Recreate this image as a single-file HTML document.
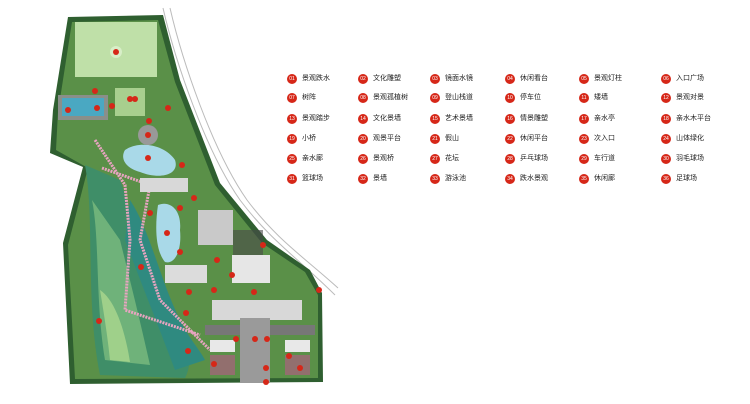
<!DOCTYPE html>
<html><head><meta charset="utf-8"><style>
body{margin:0;background:#fff;width:750px;height:404px;overflow:hidden;position:relative;font-family:"Liberation Sans","Noto Sans CJK SC",sans-serif}
.it{position:absolute;font-size:7px;color:#222;height:10px;line-height:10px;white-space:nowrap}
.it b{display:inline-block;width:10px;height:10px;border-radius:50%;background:#d62718;color:#fff;font-size:5px;text-align:center;line-height:10px;font-weight:normal;margin-right:5px;vertical-align:top}
</style></head><body>
<svg width="750" height="404" style="position:absolute;left:0;top:0">
<path d="M163,8 C175,60 205,150 240,200 C270,240 300,260 335,295" fill="none" stroke="#bbb" stroke-width="1"/>
<path d="M170,8 C182,60 212,150 247,200 C277,240 305,258 338,288" fill="none" stroke="#bbb" stroke-width="1"/>
<polygon points="68,17 163,15 180,80 220,183 267,240 310,270 322,293 323,382 70,384 63,243 83,167 50,153 53,110" fill="#2f5f30"/>
<polygon points="72,22 158,20 175,82 215,185 262,243 305,272 318,295 318,378 75,379 68,245 88,168 56,150 58,112" fill="#5a9048"/>
<rect x="75" y="22" width="82" height="55" fill="#bfe0a8"/>
<circle cx="116" cy="52" r="6" fill="#d8eec8"/>
<rect x="58" y="95" width="50" height="25" fill="#8a8f8a"/>
<rect x="62" y="98" width="42" height="18" fill="#4aa8c2"/>
<rect x="115" y="88" width="30" height="28" fill="#a8cf8e"/>
<path d="M85,165 C95,220 85,300 100,375 L185,378 C200,350 170,320 160,300 C140,260 135,220 120,180 Z" fill="#3f8e68"/>
<path d="M92,200 C100,240 95,300 105,360 L150,365 C140,320 130,280 120,240 Z" fill="#6fb27a"/>
<path d="M100,290 C105,320 108,340 110,360 L130,362 C125,330 115,300 100,290Z" fill="#9fd08a"/>
<path d="M130,200 C150,230 160,280 180,320 C190,340 200,350 205,360 L175,370 C160,330 140,280 125,240 Z" fill="#2f8a80"/>
<path d="M102,168 L150,185 L140,240 L160,300 L210,350" fill="none" stroke="#e8a4c0" stroke-width="3" stroke-dasharray="2,1"/>
<path d="M95,140 L125,185 L130,240 L125,310 L200,335" fill="none" stroke="#e8a4c0" stroke-width="3" stroke-dasharray="2,1"/>
<path d="M125,150 C140,140 165,145 175,160 C180,175 160,180 140,172 C125,168 120,158 125,150Z" fill="#a9d9e8"/>
<path d="M158,205 C170,200 182,210 180,230 C182,250 175,265 165,262 C155,250 155,225 158,205Z" fill="#a9d9e8"/>
<rect x="140" y="178" width="48" height="14" fill="#d8d8d8"/>
<rect x="198" y="210" width="35" height="35" fill="#c9c9c9"/>
<rect x="233" y="230" width="30" height="25" fill="#4a4a4a" opacity=".6"/>
<rect x="165" y="265" width="42" height="18" fill="#dcdcdc"/>
<rect x="232" y="255" width="38" height="28" fill="#e6e6e6"/>
<rect x="212" y="300" width="90" height="20" fill="#d8d8d8"/>
<rect x="240" y="318" width="30" height="65" fill="#9a9a9a"/>
<rect x="205" y="325" width="35" height="10" fill="#777"/>
<rect x="270" y="325" width="45" height="10" fill="#777"/>
<rect x="210" y="340" width="25" height="12" fill="#e8e8e8"/>
<rect x="285" y="340" width="25" height="12" fill="#e8e8e8"/>
<rect x="210" y="355" width="25" height="20" fill="#b85a88" opacity=".6"/>
<rect x="285" y="355" width="25" height="20" fill="#b85a88" opacity=".6"/>
<circle cx="148" cy="135" r="10" fill="#999"/>
<g fill="#d62718">
<circle cx="116" cy="52" r="3"/><circle cx="95" cy="91" r="3"/><circle cx="68" cy="110" r="3"/><circle cx="97" cy="108" r="3"/><circle cx="112" cy="106" r="3"/><circle cx="135" cy="99" r="3"/><circle cx="130" cy="99" r="3"/><circle cx="168" cy="108" r="3"/><circle cx="149" cy="121" r="3"/><circle cx="148" cy="135" r="3"/><circle cx="148" cy="158" r="3"/><circle cx="182" cy="165" r="3"/><circle cx="194" cy="198" r="3"/><circle cx="180" cy="208" r="3"/><circle cx="150" cy="213" r="3"/><circle cx="167" cy="233" r="3"/><circle cx="180" cy="252" r="3"/><circle cx="141" cy="267" r="3"/><circle cx="217" cy="260" r="3"/><circle cx="232" cy="275" r="3"/><circle cx="263" cy="245" r="3"/><circle cx="189" cy="292" r="3"/><circle cx="214" cy="290" r="3"/><circle cx="254" cy="292" r="3"/><circle cx="319" cy="290" r="3"/><circle cx="186" cy="313" r="3"/><circle cx="99" cy="321" r="3"/><circle cx="236" cy="339" r="3"/><circle cx="255" cy="339" r="3"/><circle cx="267" cy="339" r="3"/><circle cx="289" cy="356" r="3"/><circle cx="214" cy="364" r="3"/><circle cx="266" cy="368" r="3"/><circle cx="300" cy="368" r="3"/><circle cx="188" cy="351" r="3"/><circle cx="266" cy="382" r="3"/>
</g>
</svg>
<div class="it" style="left:287px;top:74px"><b>01</b>景观跌水</div>
<div class="it" style="left:358px;top:74px"><b>02</b>文化雕塑</div>
<div class="it" style="left:430px;top:74px"><b>03</b>镜面水镜</div>
<div class="it" style="left:505px;top:74px"><b>04</b>休闲看台</div>
<div class="it" style="left:579px;top:74px"><b>05</b>景观灯柱</div>
<div class="it" style="left:661px;top:74px"><b>06</b>入口广场</div>
<div class="it" style="left:287px;top:93px"><b>07</b>树阵</div>
<div class="it" style="left:358px;top:93px"><b>08</b>景观孤植树</div>
<div class="it" style="left:430px;top:93px"><b>09</b>登山栈道</div>
<div class="it" style="left:505px;top:93px"><b>10</b>停车位</div>
<div class="it" style="left:579px;top:93px"><b>11</b>矮墙</div>
<div class="it" style="left:661px;top:93px"><b>12</b>景观对景</div>
<div class="it" style="left:287px;top:114px"><b>13</b>景观踏步</div>
<div class="it" style="left:358px;top:114px"><b>14</b>文化景墙</div>
<div class="it" style="left:430px;top:114px"><b>15</b>艺术景墙</div>
<div class="it" style="left:505px;top:114px"><b>16</b>情景雕塑</div>
<div class="it" style="left:579px;top:114px"><b>17</b>亲水亭</div>
<div class="it" style="left:661px;top:114px"><b>18</b>亲水木平台</div>
<div class="it" style="left:287px;top:134px"><b>19</b>小桥</div>
<div class="it" style="left:358px;top:134px"><b>20</b>观景平台</div>
<div class="it" style="left:430px;top:134px"><b>21</b>假山</div>
<div class="it" style="left:505px;top:134px"><b>22</b>休闲平台</div>
<div class="it" style="left:579px;top:134px"><b>23</b>次入口</div>
<div class="it" style="left:661px;top:134px"><b>24</b>山体绿化</div>
<div class="it" style="left:287px;top:154px"><b>25</b>亲水廊</div>
<div class="it" style="left:358px;top:154px"><b>26</b>景观桥</div>
<div class="it" style="left:430px;top:154px"><b>27</b>花坛</div>
<div class="it" style="left:505px;top:154px"><b>28</b>乒乓球场</div>
<div class="it" style="left:579px;top:154px"><b>29</b>车行道</div>
<div class="it" style="left:661px;top:154px"><b>30</b>羽毛球场</div>
<div class="it" style="left:287px;top:174px"><b>31</b>篮球场</div>
<div class="it" style="left:358px;top:174px"><b>32</b>景墙</div>
<div class="it" style="left:430px;top:174px"><b>33</b>游泳池</div>
<div class="it" style="left:505px;top:174px"><b>34</b>跌水景观</div>
<div class="it" style="left:579px;top:174px"><b>35</b>休闲廊</div>
<div class="it" style="left:661px;top:174px"><b>36</b>足球场</div>
</body></html>
